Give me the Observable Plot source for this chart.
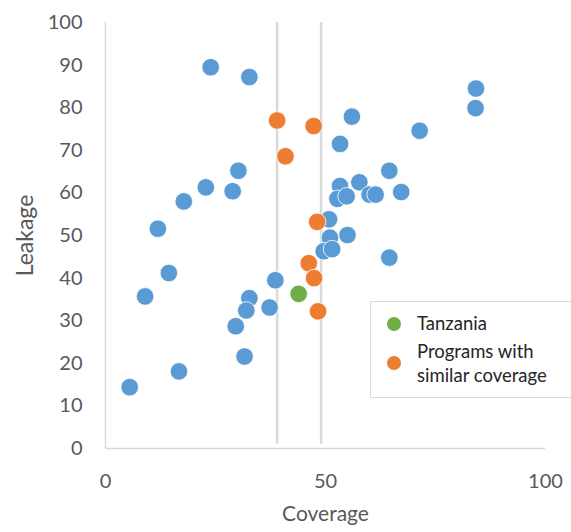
<!DOCTYPE html>
<html>
<head>
<meta charset="utf-8">
<script src="https://cdn.jsdelivr.net/npm/d3@7"></script>
<script src="https://cdn.jsdelivr.net/npm/@observablehq/plot@0.6"></script>
<style>
  body { margin: 0; background: #fff; font-family: Lato, sans-serif; overflow: hidden; }
  #wrap { position: relative; width: 571px; height: 532px; }
  .legend { position: absolute; left: 370px; top: 301px; width: 215px; height: 97px;
    border: 1.5px solid #d9d9d9; background: #fff; box-sizing: border-box; }
  .sw { position: absolute; left: 16px; width: 14px; height: 14px; border-radius: 50%; }
  .lab { position: absolute; left: 46px; font-size: 18.5px; line-height: 23.6px; color: #262626; white-space: nowrap; }
</style>
</head>
<body>
<div id="wrap"></div>
<script>
// Blue: all other programs
const otherCoverage = [23.9, 32.7, 30.2, 22.8, 28.9, 17.8, 11.9, 14.4, 9.0, 38.6, 32.7, 32.0, 37.3, 29.6, 31.6, 16.7, 5.5,
  56.0, 71.4, 53.3, 64.5, 53.3, 57.7, 52.7, 54.8, 60.0, 61.4, 67.2, 50.8, 51.0, 55.0, 49.6, 51.5, 64.5, 84.2, 84.1];
const otherLeakage = [89.5, 87.2, 65.2, 61.3, 60.4, 58.0, 51.6, 41.2, 35.7, 39.5, 35.3, 32.4, 33.1, 28.7, 21.6, 18.1, 14.4,
  77.9, 74.6, 71.5, 65.2, 61.6, 62.5, 58.6, 59.2, 59.6, 59.6, 60.2, 53.8, 49.5, 50.1, 46.3, 46.8, 44.8, 84.5, 79.9];
// Orange: programs with similar coverage
const similarCoverage = [39.0, 40.9, 47.3, 48.1, 46.2, 47.4, 48.3];
const similarLeakage = [77.0, 68.6, 75.7, 53.2, 43.5, 40.0, 32.2];
// Green: Tanzania
const tanzaniaCoverage = [43.9];
const tanzaniaLeakage = [36.3];
// Coverage band bounds
const bandBounds = [39, 49];
const xTicks = [0, 50, 100];
const yTicks = [0, 10, 20, 30, 40, 50, 60, 70, 80, 90, 100];
const legendLabels = ["Tanzania", "Programs with similar coverage"];
const colors = { other: "#5b9bd5", similar: "#ed7d31", tanzania: "#70ad47" };

const toRows = (xs, ys) => xs.map((x, i) => ({ coverage: x, leakage: ys[i] }));
const other = toRows(otherCoverage, otherLeakage);
const similar = toRows(similarCoverage, similarLeakage);
const tanzania = toRows(tanzaniaCoverage, tanzaniaLeakage);

const dotOpts = (fill) => ({ x: "coverage", y: "leakage", r: 8.8, fill, stroke: "#fff", strokeWidth: 0.8 });

const chart = Plot.plot({
  width: 571,
  height: 532,
  marginLeft: 105,
  marginRight: 26,
  marginTop: 22,
  marginBottom: 84,
  style: "font-family: Lato, sans-serif; background: #fff; overflow: visible;",
  x: { domain: [0, 100] },
  y: { domain: [0, 100] },
  marks: [
    Plot.ruleX(bandBounds, { y1: 1, y2: 100, stroke: "#d9d9d9", strokeWidth: 2.5 }),
    Plot.ruleX([0], { stroke: "#d9d9d9", strokeWidth: 1.5 }),
    Plot.ruleY([0], { stroke: "#d9d9d9", strokeWidth: 1.5 }),
    Plot.axisY({ ticks: yTicks, tickSize: 0, tickPadding: 23, fontSize: 20, color: "#595959", label: null }),
    Plot.axisX({ ticks: xTicks, tickSize: 0, tickPadding: 25, fontSize: 20, color: "#595959", label: null }),
    Plot.dot(other, dotOpts(colors.other)),
    Plot.dot(similar, dotOpts(colors.similar)),
    Plot.dot(tanzania, dotOpts(colors.tanzania)),
    Plot.text(["Coverage"], { frameAnchor: "bottom", textAnchor: "middle", dy: 72, fontSize: 21, fill: "#595959" }),
    Plot.text(["Leakage"], { frameAnchor: "left", textAnchor: "middle", rotate: -90, dx: -80, fontSize: 23, fill: "#595959" })
  ]
});

const wrap = document.getElementById("wrap");
wrap.appendChild(chart);

const legend = document.createElement("div");
legend.className = "legend";
legend.innerHTML = `
  <div class="sw" style="top:15px;background:${colors.tanzania}"></div>
  <div class="lab" style="top:10px">${legendLabels[0]}</div>
  <div class="sw" style="top:54px;background:${colors.similar}"></div>
  <div class="lab" style="top:38px;width:150px;white-space:normal">${legendLabels[1]}</div>
`;
wrap.appendChild(legend);
</script>
</body>
</html>
